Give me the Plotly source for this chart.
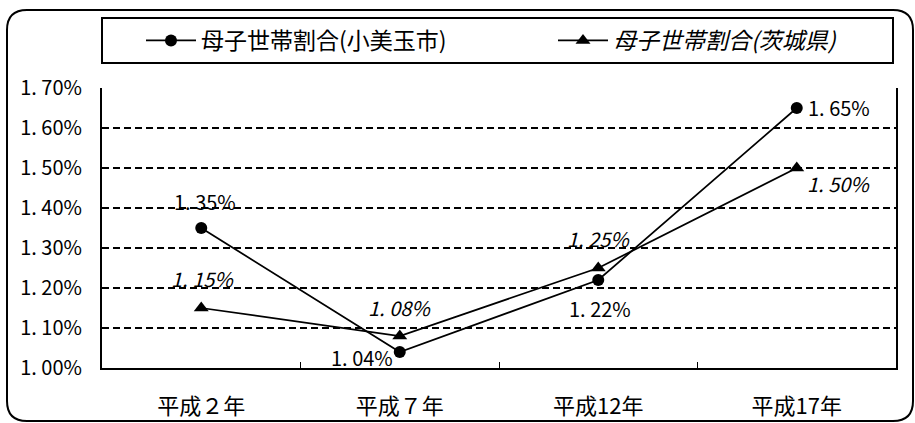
import plotly.graph_objects as go

# --- data ---
categories = ["平成２年", "平成７年", "平成12年", "平成17年"]
city_name = "母子世帯割合(小美玉市)"
pref_name = "母子世帯割合(茨城県)"
city_values = [1.35, 1.04, 1.22, 1.65]
pref_values = [1.15, 1.08, 1.25, 1.50]
y_ticks = [1.00, 1.10, 1.20, 1.30, 1.40, 1.50, 1.60, 1.70]

# label offsets (pixels) relative to each point
city_offsets = [(4, 27), (-38, -5), (2, -28), (42, 1)]
pref_offsets = [(1, 30), (0, 29), (0, 30), (42, -15)]

FONT = "Noto Sans CJK JP, sans-serif"

W, H = 915, 423
L, R, T, B = 102, 896, 88, 368


def px(x):
    return (x - L) / (R - L)


def py(y):
    return (B - y) / (B - T)


def fmt(v):
    return f"{v:.2f}%".replace(".", ". ")


fig = go.Figure()
fig.add_trace(go.Scatter(
    x=categories, y=city_values, name=city_name, mode="lines+markers",
    line=dict(color="black", width=1.75),
    marker=dict(symbol="circle", size=12, color="black"),
    legend="legend",
))
fig.add_trace(go.Scatter(
    x=categories, y=pref_values, name="<i>" + pref_name + "</i>",
    mode="lines+markers",
    line=dict(color="black", width=1.75),
    marker=dict(symbol="triangle-up", size=13, color="black"),
    legend="legend2",
))

annotations = []
for cat, v, (dx, dy) in zip(categories, city_values, city_offsets):
    annotations.append(dict(x=cat, y=v, text=fmt(v), showarrow=False,
                            xshift=dx, yshift=dy,
                            font=dict(family=FONT, size=20, color="black")))
for cat, v, (dx, dy) in zip(categories, pref_values, pref_offsets):
    annotations.append(dict(x=cat, y=v, text="<i>" + fmt(v) + "</i>",
                            showarrow=False, xshift=dx, yshift=dy,
                            font=dict(family=FONT, size=20, color="black")))

# rounded outer frame
x0, y0, x1, y1, r = 7, 10, 913, 421, 20
frame = (
    f"M{px(x0 + r)},{py(y0)} L{px(x1 - r)},{py(y0)} "
    f"Q{px(x1)},{py(y0)} {px(x1)},{py(y0 + r)} "
    f"L{px(x1)},{py(y1 - r)} Q{px(x1)},{py(y1)} {px(x1 - r)},{py(y1)} "
    f"L{px(x0 + r)},{py(y1)} Q{px(x0)},{py(y1)} {px(x0)},{py(y1 - r)} "
    f"L{px(x0)},{py(y0 + r)} Q{px(x0)},{py(y0)} {px(x0 + r)},{py(y0)} Z"
)
shapes = [
    dict(type="path", xref="paper", yref="paper", path=frame,
         line=dict(color="black", width=2)),
    dict(type="rect", xref="paper", yref="paper",
         x0=px(102), x1=px(893), y0=py(18), y1=py(63),
         line=dict(color="black", width=2)),
]

legend_common = dict(
    orientation="h", yanchor="middle", xanchor="left", y=py(40.5),
    bgcolor="rgba(0,0,0,0)", borderwidth=0, itemwidth=50,
    font=dict(family=FONT, size=23, color="black"),
)

fig.update_layout(
    width=W, height=H,
    margin=dict(l=L, r=W - R, t=T, b=H - B, pad=0, autoexpand=False),
    paper_bgcolor="white", plot_bgcolor="white",
    font=dict(family=FONT, size=20, color="black"),
    showlegend=True,
    legend=dict(x=px(141), **legend_common),
    legend2=dict(x=px(553), **legend_common),
    xaxis=dict(
        type="category", range=[-0.5, len(categories) - 0.5],
        showline=True, linecolor="black", linewidth=2,
        ticks="inside", ticklen=6, tickwidth=1, tickcolor="black",
        tickson="boundaries", showgrid=False, zeroline=False,
        ticklabelstandoff=18, automargin=False,
        tickfont=dict(family=FONT, size=22, color="black"),
    ),
    yaxis=dict(
        range=[1.0, 1.7], tickvals=y_ticks, ticktext=[fmt(v) for v in y_ticks],
        showline=True, mirror=True, linecolor="black", linewidth=2,
        ticks="inside", ticklen=7, tickwidth=1, tickcolor="black",
        showgrid=True, gridcolor="black", gridwidth=1.5, griddash="7px,4px",
        zeroline=False, ticklabelstandoff=14, automargin=False,
        tickfont=dict(family=FONT, size=20, color="black"),
    ),
    annotations=annotations,
    shapes=shapes,
)

fig.write_html("out.html")
